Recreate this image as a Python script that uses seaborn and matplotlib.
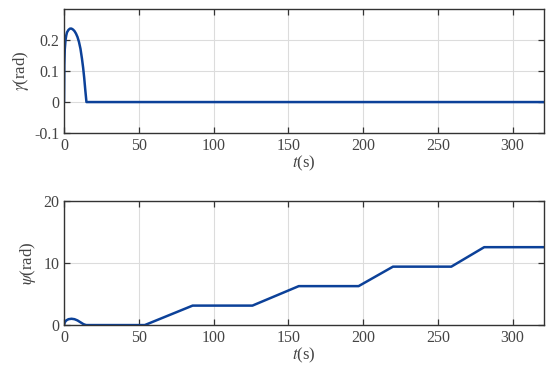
import numpy as np
import pandas as pd
import matplotlib
matplotlib.use("Agg")
import matplotlib.pyplot as plt
import seaborn as sns

# gamma(t): short hump at the start, then zero
t_gamma = [0, 0.2, 0.5, 1, 1.5, 2, 3, 4, 5, 6, 7, 8, 9, 10, 11, 12, 12.8, 13.5, 14.2, 14.7, 15, 321]
gamma = [0, 0.12, 0.17, 0.20, 0.215, 0.225, 0.233, 0.237, 0.237, 0.234, 0.229, 0.221, 0.210, 0.194,
         0.172, 0.140, 0.110, 0.078, 0.040, 0.015, 0, 0]

# psi(t): small bump, then steps of pi
t_psi = [0, 0.5, 1.5, 3, 5, 7, 9, 11, 13, 14.5, 15, 54, 86, 126, 157, 197, 220, 259, 281, 321]
psi = [0, 0.45, 0.75, 0.95, 1.02, 0.95, 0.75, 0.45, 0.15, 0.02, 0, 0,
       np.pi, np.pi, 2 * np.pi, 2 * np.pi, 3 * np.pi, 3 * np.pi, 4 * np.pi, 4 * np.pi]

x_ticks = [0, 50, 100, 150, 200, 250, 300]
gamma_ticks = [-0.1, 0, 0.1, 0.2]
gamma_tick_labels = ["-0.1", "0", "0.1", "0.2"]
psi_ticks = [0, 10, 20]

sns.set_style("whitegrid")
plt.rcParams["font.family"] = ["Liberation Serif", "DejaVu Serif"]
plt.rcParams["mathtext.fontset"] = "stix"

text_col = "#444444"
line_col = "#0c4199"

df_g = pd.DataFrame({"t": t_gamma, "v": gamma})
df_p = pd.DataFrame({"t": t_psi, "v": psi})

fig = plt.figure(figsize=(5.5, 3.78), dpi=100)
ax1 = fig.add_axes([0.1164, 0.648, 0.8727, 0.328])
ax2 = fig.add_axes([0.1164, 0.140, 0.8727, 0.328])

sns.lineplot(data=df_g, x="t", y="v", ax=ax1, color=line_col, linewidth=1.8, sort=False)
sns.lineplot(data=df_p, x="t", y="v", ax=ax2, color=line_col, linewidth=1.8, sort=False)

ax1.set_ylim(-0.1, 0.3)
ax1.set_yticks(gamma_ticks)
ax1.set_yticklabels(gamma_tick_labels)
ax1.set_ylabel(r"$\gamma$(rad)", fontsize=12, color=text_col, labelpad=2)

ax2.set_ylim(0, 20)
ax2.set_yticks(psi_ticks)
ax2.set_ylabel(r"$\psi$(rad)", fontsize=12, color=text_col, labelpad=4)

for ax in (ax1, ax2):
    ax.set_xlim(0, 321)
    ax.set_xticks(x_ticks)
    ax.set_xlabel(r"$t$(s)", fontsize=12, color=text_col, labelpad=0)
    ax.grid(True, color="#dcdcdc", linewidth=0.8)
    ax.tick_params(direction="in", length=4, width=0.9, colors="#333333",
                   labelcolor=text_col, labelsize=11.5, top=True, right=True,
                   bottom=True, left=True)
    for s in ax.spines.values():
        s.set_color("#333333")
        s.set_linewidth(1.0)
    ax.set_facecolor("white")

fig.savefig("out.png", dpi=100)
